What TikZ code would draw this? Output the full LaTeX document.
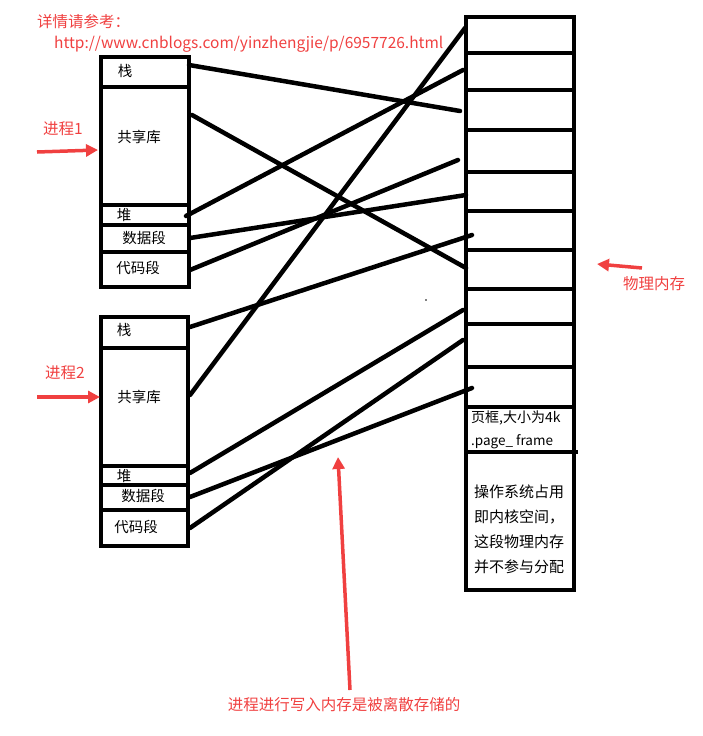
\documentclass[tikz,border=0pt]{standalone}
\usepackage{fontspec}
\setmainfont{Noto Sans CJK SC}
\usetikzlibrary{arrows.meta}
\definecolor{rd}{HTML}{F04040}
\begin{document}
\begin{tikzpicture}[x=1pt,y=-1pt,
  box/.style={draw,line width=4pt},
  link/.style={line width=4.5pt,line cap=round},
  lbl/.style={font=\fontsize{14.5}{16}\selectfont,inner sep=0pt},
  rtxt/.style={font=\fontsize{15.5}{17}\selectfont,text=rd,inner sep=0pt},
  rarr/.style={draw=rd,line width=3.5pt,-{Triangle[length=12pt,width=12pt]}}]
\useasboundingbox (0,0) rectangle (703,736);
% process 1
\draw[box] (101,57) rectangle (189,287);
\foreach \y in {87,205,225,252}{\draw[box] (101,\y) -- (189,\y);}
\node[lbl] (s1) at (125,71) {栈};
\node[lbl] (g1) at (139,137) {共享库};
\node[lbl] (h1) at (124,215) {堆};
\node[lbl] (d1) at (144,238) {数据段};
\node[lbl] (c1) at (138,268) {代码段};
% process 2
\draw[box] (101,317) rectangle (188,546);
\foreach \y in {348,466,485,510}{\draw[box] (101,\y) -- (188,\y);}
\node[lbl] (s2) at (124,330) {栈};
\node[lbl] (g2) at (139,397) {共享库};
\node[lbl] (h2) at (124,476) {堆};
\node[lbl] (d2) at (143,496) {数据段};
\node[lbl] (c2) at (136,527) {代码段};
% physical memory
\draw[box] (466,17) rectangle (574,590);
\foreach \y in {53,90,130,172,211,250,289,324,367,407}{\draw[box] (466,\y) -- (574,\y);}
\draw[box] (466,452) -- (578,452);
\node[lbl,anchor=west,font=\fontsize{14}{15}\selectfont] (pf1) at (471,418) {页框,大小为4k};
\node[lbl,anchor=west,font=\fontsize{13.5}{15}\selectfont] (pf2) at (471,442) {.page\_ frame};
\node[lbl,anchor=north west,align=left,font=\fontsize{15}{25}\selectfont] (os) at (474,485) {操作系统占用\\即内核空间，\\这段物理内存\\并不参与分配};
% connectors
\coordinate (a1) at (189,65); \coordinate (b1) at (460,111);
\coordinate (a2) at (192,115); \coordinate (b2) at (466,268);
\coordinate (a3) at (186,216); \coordinate (b3) at (463,70);
\coordinate (a4) at (190,238); \coordinate (b4) at (466,195);
\coordinate (a5) at (190,270); \coordinate (b5) at (458,160);
\coordinate (a6) at (190,327); \coordinate (b6) at (472,235);
\coordinate (a7) at (190,395); \coordinate (b7) at (465,28);
\coordinate (a8) at (190,473); \coordinate (b8) at (463,310);
\coordinate (a9) at (190,497); \coordinate (b9) at (472,388);
\coordinate (a10) at (190,528); \coordinate (b10) at (463,340);
\foreach \i in {1,...,10}{\draw[link] (a\i) -- (b\i);}
% red annotations
\node[rtxt,anchor=west] (ref) at (37,22) {详情请参考：};
\node[rtxt,anchor=west] (url) at (54,44) {http://www.cnblogs.com/yinzhengjie/p/6957726.html};
\node[rtxt] (p1) at (63,129) {进程1};
\coordinate (p1s) at (37,152); \coordinate (p1e) at (98,150);
\draw[rarr] (p1s) -- (p1e);
\node[rtxt] (p2) at (65,373) {进程2};
\coordinate (p2s) at (37,397); \coordinate (p2e) at (100,397);
\draw[rarr] (p2s) -- (p2e);
\node[rtxt] (pm) at (654,284) {物理内存};
\coordinate (pms) at (642,268); \coordinate (pme) at (597,264);
\draw[rarr] (pms) -- (pme);
\node[rtxt] (bot) at (344,705) {进程进行写入内存是被离散存储的};
\coordinate (bs) at (350,690); \coordinate (be) at (338,457);
\draw[rarr] (bs) -- (be);
\fill (426,300) circle (0.8);
\end{tikzpicture}
\end{document}
